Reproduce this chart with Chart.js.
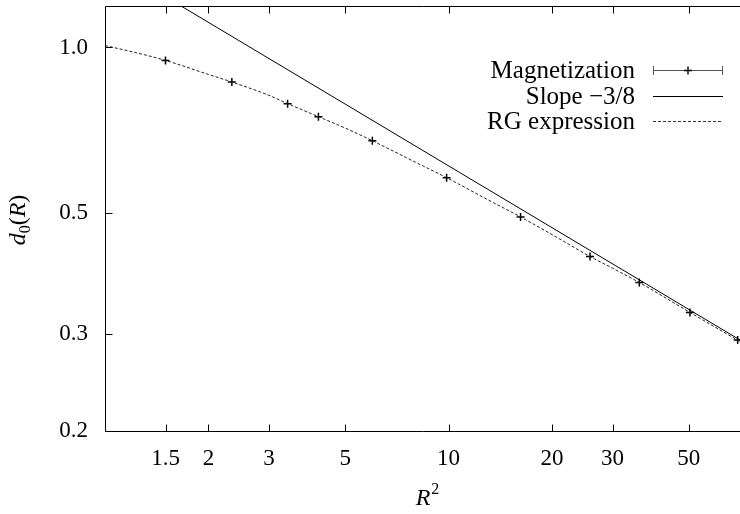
<!DOCTYPE html>
<html>
<head>
<meta charset="utf-8">
<script src="https://cdn.jsdelivr.net/npm/chart.js@4"></script>
<style>
  html, body { margin: 0; padding: 0; background: #fff; }
  #wrap { width: 740px; height: 514px; }
</style>
</head>
<body>
<div id="wrap"><canvas id="grafico" width="740" height="514"></canvas></div>
<script>
// datos (escala log-log)
const magX = [1.5, 2.34, 3.4, 4.18, 6.0, 9.87, 16.2, 25.8, 35.9, 50.4, 69.4];
const magY = [0.947, 0.865, 0.790, 0.748, 0.676, 0.579, 0.491, 0.416, 0.373, 0.329, 0.293];

const slopeX = [1, 70.5];
const slopeY = [1.44, 0.293];

const rgX = [1, 1.2, 1.5, 2, 2.34, 3, 3.4, 4.18, 5, 6, 8, 9.87, 13, 16.2, 20, 25.8, 30, 35.9, 50.4, 70.5];
const rgY = [1.008, 0.982, 0.947, 0.893, 0.865, 0.818, 0.790, 0.748, 0.713, 0.676, 0.618, 0.579, 0.528, 0.491, 0.456, 0.416, 0.396, 0.373, 0.329, 0.291];

const xTickValues = [1.5, 2, 3, 5, 10, 20, 30, 50];
const xTickLabels = ['1.5', '2', '3', '5', '10', '20', '30', '50'];
const yTickValues = [1, 0.5, 0.3, 0.2];
const yTickLabels = ['1.0', '0.5', '0.3', '0.2'];

const legendLabels = ['Magnetization', 'Slope \u22123/8', 'RG expression'];

const FONT = "'Liberation Serif', 'Times New Roman', serif";
const toPts = (xs, ys) => xs.map((x, i) => ({ x, y: ys[i] }));

// marco, ticks hacia dentro, titulos y leyenda estilo gnuplot
const framePlugin = {
  id: 'frame',
  afterDraw(chart) {
    const c = chart.ctx;
    const a = chart.chartArea;
    const xs = chart.scales.x, ys = chart.scales.y;
    const L = Math.round(a.left) + 0.5, T = Math.round(a.top) + 0.5, B = Math.round(a.bottom) + 0.5;
    c.save();
    c.strokeStyle = '#000';
    c.lineWidth = 1;
    c.beginPath();
    c.moveTo(a.right + 2, T); c.lineTo(L, T); c.lineTo(L, B); c.lineTo(a.right + 2, B);
    xTickValues.forEach(v => {
      const px = Math.round(xs.getPixelForValue(v)) + 0.5;
      c.moveTo(px, B); c.lineTo(px, B - 7);
      c.moveTo(px, T); c.lineTo(px, T + 7);
    });
    yTickValues.forEach(v => {
      const py = Math.round(ys.getPixelForValue(v)) + 0.5;
      c.moveTo(L, py); c.lineTo(L + 7, py);
    });
    c.stroke();

    c.fillStyle = '#000';
    c.textBaseline = 'alphabetic';
    // titulo eje y: d0(R)
    c.save();
    c.translate(25, 220);
    c.rotate(-Math.PI / 2);
    const parts = [
      { t: 'd', f: 'italic 24px ' + FONT, dy: 0 },
      { t: '0', f: '16px ' + FONT, dy: 5 },
      { t: '(', f: '24px ' + FONT, dy: 0 },
      { t: 'R', f: 'italic 24px ' + FONT, dy: 0 },
      { t: ')', f: '24px ' + FONT, dy: 0 }
    ];
    let w = 0;
    parts.forEach(p => { c.font = p.f; p.w = c.measureText(p.t).width; w += p.w; });
    let x0 = -w / 2;
    parts.forEach(p => { c.font = p.f; c.fillText(p.t, x0, p.dy); x0 += p.w; });
    c.restore();

    // titulo eje x: R^2
    c.font = 'italic 24px ' + FONT;
    const wr = c.measureText('R').width;
    c.font = '16px ' + FONT;
    const w2 = c.measureText('2').width;
    let sx = 427 - (wr + w2) / 2;
    c.font = 'italic 24px ' + FONT;
    c.fillText('R', sx, 505);
    c.font = '16px ' + FONT;
    c.fillText('2', sx + wr + 1, 494);

    // leyenda
    c.font = '25px ' + FONT;
    c.textAlign = 'right';
    c.textBaseline = 'middle';
    const rowsY = [71, 97, 122];
    legendLabels.forEach((t, i) => c.fillText(t, 635, rowsY[i]));
    const s0 = 653, s1 = 723;
    c.lineWidth = 1;
    c.strokeStyle = '#555';
    c.beginPath();
    c.moveTo(s0, 70.5); c.lineTo(s1, 70.5);
    c.moveTo(s0 + 0.5, 66); c.lineTo(s0 + 0.5, 75);
    c.moveTo(s1 - 0.5, 66); c.lineTo(s1 - 0.5, 75);
    c.stroke();
    c.strokeStyle = '#000';
    c.lineWidth = 1.4;
    c.beginPath();
    c.moveTo(684, 70.5); c.lineTo(692, 70.5);
    c.moveTo(688, 66.5); c.lineTo(688, 74.5);
    c.stroke();
    c.lineWidth = 1;
    c.beginPath();
    c.moveTo(s0, 96.5); c.lineTo(s1, 96.5);
    c.stroke();
    c.setLineDash([3, 2]);
    c.strokeStyle = '#333';
    c.beginPath();
    c.moveTo(s0, 121.5); c.lineTo(s1, 121.5);
    c.stroke();
    c.restore();
  }
};

const chart = new Chart(document.getElementById('grafico'), {
  type: 'line',
  data: {
    datasets: [
      {
        label: legendLabels[2],
        data: toPts(rgX, rgY),
        borderColor: '#222',
        borderWidth: 1,
        borderDash: [3, 2],
        pointRadius: 0,
        cubicInterpolationMode: 'monotone'
      },
      {
        label: legendLabels[1],
        data: toPts(slopeX, slopeY),
        borderColor: '#000',
        borderWidth: 1,
        pointRadius: 0
      },
      {
        label: legendLabels[0],
        data: toPts(magX, magY),
        showLine: false,
        pointStyle: 'cross',
        pointRadius: 4,
        borderColor: '#000',
        borderWidth: 1.5
      }
    ]
  },
  options: {
    responsive: false,
    animation: false,
    layout: { autoPadding: false, padding: { top: 6, right: 0, left: 0, bottom: 0 } },
    plugins: {
      legend: { display: false },
      tooltip: { enabled: false }
    },
    scales: {
      x: {
        type: 'logarithmic',
        min: 1,
        max: 70.5,
        border: { display: false },
        grid: { display: false, drawTicks: false },
        afterFit: s => { s.height = 83; s.paddingLeft = 0; s.paddingRight = 0; },
        afterBuildTicks: s => { s.ticks = xTickValues.map(v => ({ value: v })); },
        ticks: {
          autoSkip: false,
          maxRotation: 0,
          padding: 14,
          color: '#000',
          font: { family: FONT, size: 23 },
          callback: (v, i) => xTickLabels[i]
        }
      },
      y: {
        type: 'logarithmic',
        min: 0.2,
        max: 1.19,
        border: { display: false },
        grid: { display: false, drawTicks: false },
        afterFit: s => { s.width = 105; s.paddingTop = 0; s.paddingBottom = 0; },
        afterBuildTicks: s => { s.ticks = yTickValues.map(v => ({ value: v })); },
        ticks: {
          autoSkip: false,
          padding: 17,
          color: '#000',
          font: { family: FONT, size: 23 },
          callback: (v, i) => yTickLabels[i]
        }
      }
    }
  },
  plugins: [framePlugin]
});
</script>
</body>
</html>
